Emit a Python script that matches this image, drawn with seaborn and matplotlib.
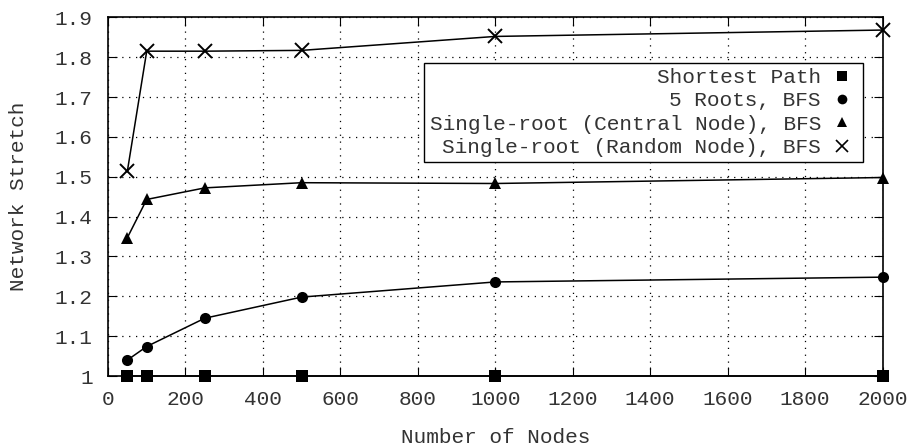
import matplotlib
matplotlib.use("Agg")
import matplotlib.pyplot as plt
import seaborn as sns
import pandas as pd
from matplotlib.lines import Line2D

nodes = [50, 100, 250, 500, 1000, 2000]
shortest_path = [1.0, 1.0, 1.0, 1.0, 1.0, 1.0]
five_roots = [1.040, 1.074, 1.145, 1.198, 1.236, 1.248]
central_node = [1.347, 1.443, 1.472, 1.485, 1.483, 1.498]
random_node = [1.514, 1.815, 1.815, 1.817, 1.852, 1.868]

series_names = ["Shortest Path", "5 Roots, BFS",
                "Single-root (Central Node), BFS", "Single-root (Random Node), BFS"]
series_values = [shortest_path, five_roots, central_node, random_node]
x_ticks = [0, 200, 400, 600, 800, 1000, 1200, 1400, 1600, 1800, 2000]
y_ticks = [1.0, 1.1, 1.2, 1.3, 1.4, 1.5, 1.6, 1.7, 1.8, 1.9]
y_tick_labels = ["1", "1.1", "1.2", "1.3", "1.4", "1.5", "1.6", "1.7", "1.8", "1.9"]

sns.set_style("ticks")
plt.rcParams["font.family"] = ["Liberation Mono", "DejaVu Sans"]
FS = 15.2
plt.rcParams["font.size"] = FS

TEXT = "#333333"

fig = plt.figure(figsize=(9.16, 4.48), dpi=100)
ax = fig.add_axes([108 / 916, 1 - 376 / 448, (882.5 - 108) / 916, (376 - 17.3) / 448])

markers = ["s", "o", "^", "x"]
msizes = [8, 8, 8, 10]
handles = []
for name, vals, m, ms in zip(series_names, series_values, markers, msizes):
    df = pd.DataFrame({"x": nodes, "y": vals})
    sns.lineplot(data=df, x="x", y="y", ax=ax, color="black", linewidth=1.1,
                 marker=m, markersize=ms, markeredgewidth=1.4 if m == "x" else 0,
                 markeredgecolor="black", markerfacecolor="black", clip_on=False,
                 zorder=5)
    handles.append(Line2D([], [], linestyle="none", marker=m, color="black",
                          markersize=ms - 1, markeredgewidth=1.2 if m == "x" else 0))

ax.set_xlim(0, 2000)
ax.set_ylim(1.0, 1.9)
ax.set_xticks(x_ticks)
ax.set_yticks(y_ticks)
ax.set_yticklabels(y_tick_labels)
ax.tick_params(direction="in", length=6.5, width=0.8, top=True, right=True,
               labelsize=FS, labelcolor=TEXT, color="black")
ax.tick_params(axis="y", pad=11)
ax.tick_params(axis="x", pad=10)
ax.set_axisbelow(True)
ax.grid(True, which="major", linestyle=(0, (1, 4.5)), color="black", linewidth=0.9)
for s in ax.spines.values():
    s.set_visible(True)
    s.set_linewidth(1.2)
    s.set_color("black")

ax.set_xlabel("Number of Nodes", fontsize=FS, labelpad=14, color=TEXT)
ax.set_ylabel("Network Stretch", fontsize=FS, labelpad=19, color=TEXT)

leg = ax.legend(handles, series_names, loc="upper right",
                bbox_to_anchor=(0.975, 0.8726), borderaxespad=0,
                markerfirst=False, handlelength=1.5, handletextpad=0.25,
                labelspacing=0.2, borderpad=0.25, fancybox=False,
                framealpha=1, edgecolor="black", fontsize=FS)
leg.get_frame().set_linewidth(1.0)
leg.set_zorder(10)
for t in leg.get_texts():
    t.set_color(TEXT)

fig.savefig("out.png", dpi=100)
